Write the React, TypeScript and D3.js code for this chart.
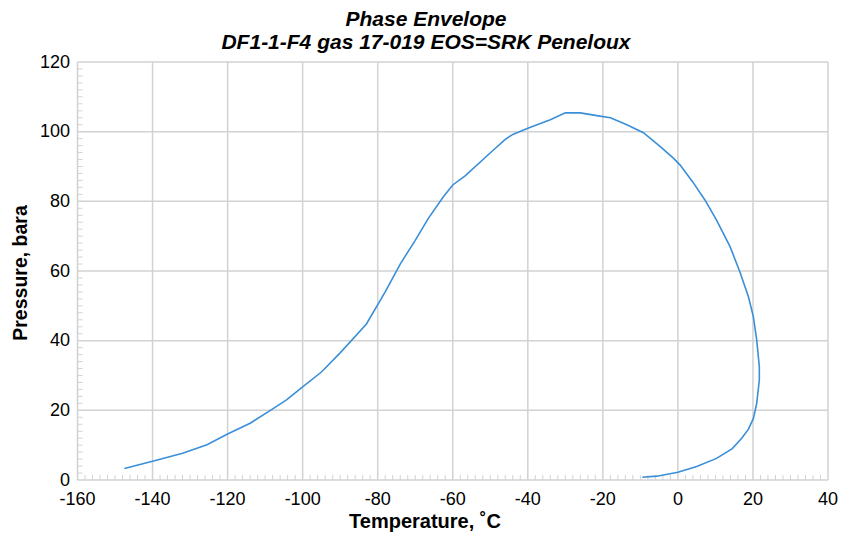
import React from "react";
import * as d3 from "d3";

const temperature = [
  -147.5, -140, -132, -125.5, -120, -114, -108.7, -104.3, -100.5, -95, -90, -83,
  -78, -74, -70, -66.5, -62.5, -60, -56.7, -49.6, -46, -44, -40, -34, -30, -26,
  -21.6, -18, -13.6, -9.2, -5, -1.2, 0.6, 4, 7.2, 10.3, 13.9, 16.5, 18.8, 20.1,
  21, 21.7, 21.7, 21, 20.1, 18.8, 17, 14.5, 10.3, 5, 0, -5.6, -9.5,
];
const pressure = [
  3.3, 5.4, 7.7, 10.1, 13.2, 16.3, 19.9, 23, 26.3, 31, 36.5, 44.8,
  54, 62, 68.8, 75.1, 81.3, 84.7, 87.3, 94.3, 97.8, 99.2, 101, 103.4, 105.4, 105.4,
  104.6, 104, 102, 99.7, 96, 92.4, 90.4, 85.5, 80.4, 74.6, 67, 59.8, 52.6, 46.9,
  40.2, 32.5, 28.7, 22, 17.6, 14.6, 12, 9, 6.2, 3.9, 2.2, 1.1, 0.8,
];
const xTicks = [-160, -140, -120, -100, -80, -60, -40, -20, 0, 20, 40];
const yTicks = [0, 20, 40, 60, 80, 100, 120];
const titleLines = ["Phase Envelope", "DF1-1-F4 gas 17-019 EOS=SRK Peneloux"];
const xLabel = "Temperature, \u02DAC";
const yLabel = "Pressure, bara";

const W = 844;
const H = 536;
const left = 77.5;
const right = 828;
const top = 62;
const bottom = 480;

export default function App() {
  const x = d3.scaleLinear().domain([-160, 40]).range([left, right]);
  const y = d3.scaleLinear().domain([0, 120]).range([bottom, top]);
  const pts = temperature.map((t, i) => [t, pressure[i]] as [number, number]);
  const line = d3
    .line<[number, number]>()
    .x((d) => x(d[0]))
    .y((d) => y(d[1]))
    .curve(d3.curveLinear);
  const minorX = d3.range(-160, 40.001, 2).filter((v) => v % 20 !== 0);
  const minorY = d3.range(0, 120.001, 2).filter((v) => v % 20 !== 0);
  const font = "'Liberation Sans', Arial, sans-serif";
  const grid = "#d2d2d2";

  return (
    <svg
      width={W}
      height={H}
      style={{ position: "absolute", left: 0, top: 0, background: "#fff" }}
      fontFamily={font}
    >
      <rect x={0} y={0} width={W} height={H} fill="#fff" />
      {xTicks.map((t) => (
        <line key={"gx" + t} x1={x(t)} x2={x(t)} y1={top} y2={bottom} stroke={grid} strokeWidth={1.5} />
      ))}
      {yTicks.map((t) => (
        <line key={"gy" + t} x1={left} x2={right} y1={y(t)} y2={y(t)} stroke={grid} strokeWidth={1.5} />
      ))}
      {minorX.map((t) => (
        <line key={"mx" + t} x1={x(t)} x2={x(t)} y1={bottom} y2={bottom - 5} stroke={grid} strokeWidth={1} />
      ))}
      {minorY.map((t) => (
        <line key={"my" + t} x1={left} x2={left + 5} y1={y(t)} y2={y(t)} stroke={grid} strokeWidth={1} />
      ))}
      <path d={line(pts) || ""} fill="none" stroke="#3a8fd8" strokeWidth={1.6} />
      {xTicks.map((t) => (
        <text key={"tx" + t} x={x(t)} y={505} textAnchor="middle" fontSize={18} fill="#000">
          {t}
        </text>
      ))}
      {yTicks.map((t) => (
        <text key={"ty" + t} x={70} y={y(t) + 5.5} textAnchor="end" fontSize={18} fill="#000">
          {t}
        </text>
      ))}
      {titleLines.map((s, i) => (
        <text
          key={"title" + i}
          x={W / 2 + 4}
          y={26 + i * 22.5}
          textAnchor="middle"
          fontSize={21}
          fontWeight="bold"
          fontStyle="italic"
          fill="#000"
        >
          {s}
        </text>
      ))}
      <text x={425} y={528} textAnchor="middle" fontSize={20} fontWeight="bold" fill="#000">
        {xLabel}
      </text>
      <text
        transform={`translate(27, 273) rotate(-90)`}
        textAnchor="middle"
        fontSize={19.5}
        fontWeight="bold"
        fill="#000"
      >
        {yLabel}
      </text>
    </svg>
  );
}
